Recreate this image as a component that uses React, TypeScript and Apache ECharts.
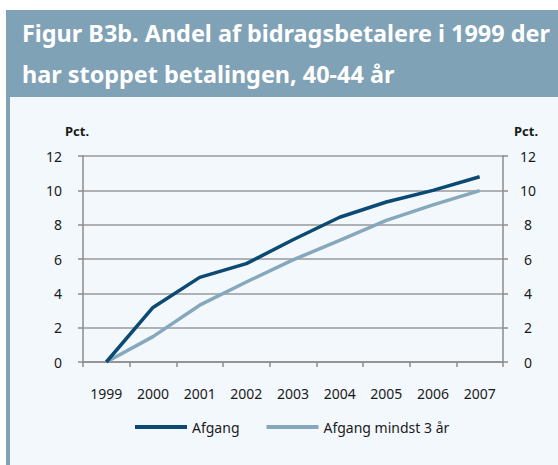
import React, { useEffect, useRef } from "react";
import * as echarts from "echarts";

const years = ["1999", "2000", "2001", "2002", "2003", "2004", "2005", "2006", "2007"];
const afgang = [0, 3.18, 4.93, 5.73, 7.12, 8.43, 9.32, 10.0, 10.79];
const afgangMindst3 = [0, 1.48, 3.31, 4.66, 5.95, 7.08, 8.25, 9.15, 9.98];
const seriesNames = ["Afgang", "Afgang mindst 3 år"];
const titleText = "Figur B3b. Andel af bidragsbetalere i 1999 der\nhar stoppet betalingen, 40-44 år";
const unitLabel = "Pct.";

const FONT = "'Noto Sans', sans-serif";
const TEXT = "#1a1a1a";
const AXIS = "#8c8c8c";
const DARK = "#0b4a72";
const LIGHT = "#86a8bd";
const BAND = "#80a2b6";
const PANEL = "#f3f8fc";

export default function App() {
  const ref = useRef<HTMLDivElement>(null);
  useEffect(() => {
    if (!ref.current) return;
    const chart = echarts.init(ref.current, undefined, { renderer: "svg" });
    chart.setOption({
      animation: false,
      backgroundColor: "#ffffff",
      title: {
        text: titleText,
        left: 22,
        top: 12,
        padding: 0,
        textStyle: {
          color: "#ffffff",
          fontFamily: FONT,
          fontWeight: "bold",
          fontSize: 23.4,
          lineHeight: 41,
        },
      },
      graphic: [
        { type: "rect", z: -10, shape: { x: 6, y: 10, width: 552, height: 455 }, style: { fill: PANEL } },
        { type: "rect", z: -9, shape: { x: 6, y: 10, width: 552, height: 87 }, style: { fill: BAND } },
        { type: "rect", z: -9, shape: { x: 6, y: 10, width: 4, height: 455 }, style: { fill: BAND } },
        {
          type: "text",
          left: 65,
          top: 124,
          style: { text: unitLabel, fontFamily: FONT, fontWeight: "bold", fontSize: 13, fill: TEXT },
        },
        {
          type: "text",
          left: 514,
          top: 124,
          style: { text: unitLabel, fontFamily: FONT, fontWeight: "bold", fontSize: 13, fill: TEXT },
        },
      ],
      grid: { left: 83, right: 55, top: 156, bottom: 103, containLabel: false },
      legend: {
        left: 135,
        top: 420,
        padding: 0,
        itemWidth: 52,
        itemHeight: 4,
        itemGap: 27,
        icon: "rect",
        textStyle: { fontFamily: FONT, fontSize: 14, color: TEXT },
        data: seriesNames,
      },
      xAxis: {
        type: "category",
        data: years,
        boundaryGap: true,
        axisLine: { show: true, lineStyle: { color: AXIS, width: 1.5 } },
        axisTick: { show: true, length: 5, lineStyle: { color: AXIS, width: 1.5 } },
        axisLabel: { fontFamily: FONT, fontSize: 14, color: TEXT, margin: 24 },
        splitLine: { show: false },
      },
      yAxis: [
        {
          type: "value",
          min: 0,
          max: 12,
          interval: 2,
          position: "left",
          axisLine: { show: true, lineStyle: { color: AXIS, width: 1.5 } },
          axisTick: { show: true, length: 5, lineStyle: { color: AXIS, width: 1.5 } },
          axisLabel: { fontFamily: FONT, fontSize: 14, color: TEXT, margin: 21 },
          splitLine: { show: true, lineStyle: { color: "#9a9a9a", width: 1.5 } },
        },
        {
          type: "value",
          min: 0,
          max: 12,
          interval: 2,
          position: "right",
          axisLine: { show: true, lineStyle: { color: AXIS, width: 1.5 } },
          axisTick: { show: true, length: 5, lineStyle: { color: AXIS, width: 1.5 } },
          axisLabel: { fontFamily: FONT, fontSize: 14, color: TEXT, margin: 25, align: "center" },
          splitLine: { show: false },
        },
      ],
      series: [
        {
          name: seriesNames[0],
          type: "line",
          data: afgang,
          symbol: "none",
          lineStyle: { color: DARK, width: 3.5 },
          itemStyle: { color: DARK },
          z: 3,
        },
        {
          name: seriesNames[1],
          type: "line",
          data: afgangMindst3,
          symbol: "none",
          lineStyle: { color: LIGHT, width: 3.5 },
          itemStyle: { color: LIGHT },
          z: 2,
        },
      ],
    });
    return () => chart.dispose();
  }, []);
  return (
    <div
      ref={ref}
      style={{ position: "absolute", left: 0, top: 0, width: 558, height: 465 }}
    />
  );
}
